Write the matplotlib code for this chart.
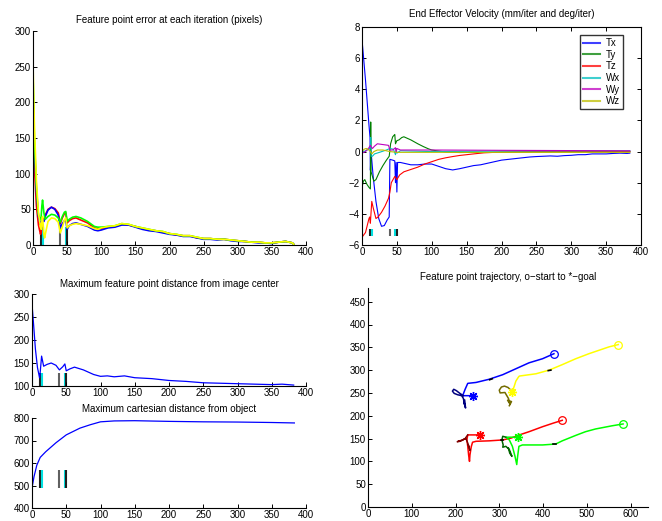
import matplotlib
matplotlib.use("Agg")
import matplotlib.pyplot as plt

plt.rcParams['font.family'] = ['Liberation Sans', 'DejaVu Sans']
plt.rcParams['font.size'] = 7

# ---------------- event markers (iterations where something happened) -------
event_iters = [0, 12, 14, 40, 48, 50]
event_colors = ['#00e0e0', '#202020', '#00e0e0', '#606060', '#00e0e0', '#202020']

# ---------------- feature point error (pixels) ----------------
err_x = [0, 2, 5, 8, 11, 12, 13, 14, 16, 17, 18, 22, 27, 32, 37, 40, 43, 46, 48, 50,
         53, 58, 63, 70, 80, 90, 95,
         100, 110, 120, 130, 140, 150, 160, 170, 180, 190, 200, 210, 220, 230, 240,
         250, 260, 270, 280, 290, 300, 310, 320, 330, 340, 350, 360, 370, 380, 382]
err_red = [175, 110, 55, 28, 15, 18, 28, 38, 34, 37, 42, 50, 53, 51, 45, 30, 38, 44, 45, 31,
           34, 37, 38, 35, 31, 24, 23,
           23, 25, 26, 29, 28, 26, 23, 21, 20, 18, 16, 14, 13, 13, 10,
           9, 9, 8, 8, 7, 6, 5, 4, 4, 3, 3, 4, 5, 3, 1]
err_blue = [210, 140, 75, 40, 28, 33, 30, 35, 33, 36, 40, 49, 53, 50, 42, 24, 30, 34, 35, 22,
            27, 30, 31, 29, 26, 21, 20,
            21, 24, 25, 28, 28, 25, 22, 20, 19, 17, 15, 14, 12, 12, 10,
            8, 8, 7, 8, 6, 5, 5, 4, 3, 3, 2, 4, 5, 3, 1]
err_green = [240, 150, 80, 42, 35, 40, 55, 63, 45, 40, 36, 40, 43, 42, 38, 32, 40, 46, 47, 33,
             36, 39, 40, 38, 33, 26, 25,
             25, 26, 27, 30, 29, 26, 24, 22, 20, 19, 16, 15, 13, 13, 11,
             9, 9, 8, 8, 7, 6, 5, 4, 4, 3, 3, 4, 5, 3, 1]
err_yellow = [255, 170, 90, 45, 25, 22, 33, 40, 15, 10, 15, 33, 38, 37, 32, 17, 25, 35, 38, 24,
              27, 29, 30, 29, 27, 23, 22,
              24, 26, 27, 30, 29, 26, 24, 22, 20, 19, 16, 15, 13, 13, 11,
              9, 9, 8, 8, 7, 6, 5, 4, 4, 3, 3, 4, 5, 3, 1]

# ---------------- end effector velocity ----------------
tx_x = [0, 5, 10, 11.5, 12, 13, 16, 20, 24, 28, 32, 36, 39, 40, 44, 47, 48, 49, 50, 51, 55, 60,
        70, 80, 90, 100, 110, 120, 130, 140, 150, 160, 170, 180, 190, 200, 210, 220, 230, 240,
        250, 260, 270, 280, 290, 300, 310, 320, 330, 340, 350, 360, 370, 380, 384]
tx_y = [7.2, 4.6, 1.7, 0.9, -1.2, 0.0, -1.6, -3.2, -4.3, -4.8, -4.75, -4.4, -4.2, -0.5, -0.55,
        -0.6, -2.0, -0.7, -2.6, -0.7, -0.7, -0.75,
        -0.85, -0.85, -0.8, -0.8, -0.95, -1.1, -1.18, -1.1, -1.0, -0.9, -0.85, -0.75, -0.65,
        -0.55, -0.5, -0.45, -0.4, -0.35, -0.32, -0.3, -0.28, -0.3, -0.26, -0.24, -0.2, -0.2,
        -0.15, -0.15, -0.15, -0.12, -0.1, -0.12, -0.1]
ty_x = [0, 2, 4, 7, 10, 12, 12.5, 13, 15, 17, 20, 25, 30, 35, 39, 41, 44, 47, 48, 50, 53, 57,
        60, 70, 80, 88, 95, 100, 110, 120, 140, 160, 200, 250, 300, 384]
ty_y = [-2.3, -1.9, -1.8, -2.1, -2.3, -2.4, 1.9, -1.3, -1.6, -1.9, -1.8, -1.3, -0.9, -0.55,
        -0.3, 0.5, 0.95, 1.1, 0.5, 0.7, 0.75, 0.9, 0.95, 0.75, 0.5, 0.32, 0.18, 0.1, 0.03,
        -0.03, -0.06, -0.05, -0.05, -0.03, -0.02, 0.0]
tz_x = [0, 5, 10, 11, 12, 14, 16, 20, 23, 28, 33, 38, 40, 42, 47, 50, 54, 60, 70, 80, 90,
        100, 110, 120, 130, 140, 150, 160, 175, 200, 250, 300, 384]
tz_y = [-5.5, -5.2, -4.3, -4.2, -4.6, -3.2, -3.6, -4.3, -4.2, -3.9, -3.5, -3.0, -2.6, -2.0,
        -1.6, -1.8, -1.5, -1.3, -1.15, -1.0, -0.8, -0.65, -0.5, -0.4, -0.32, -0.25, -0.2,
        -0.15, -0.08, -0.03, 0.0, 0.0, 0.0]
wx_x = [0, 5, 10, 12, 12.5, 13, 15, 18, 25, 35, 40, 45, 48, 49, 50, 55, 100, 200, 384]
wx_y = [-0.05, 0.05, 0.15, 0.3, 0.9, -0.3, -0.3, -0.15, -0.05, 0.1, 0.2, 0.15, -0.2, 0.2,
        -0.1, 0.05, 0.0, 0.03, 0.05]
wy_x = [0, 5, 10, 12, 13, 15, 18, 22, 30, 38, 40, 44, 48, 49, 50, 55, 100, 200, 384]
wy_y = [-0.1, 0.0, 0.25, 0.4, 0.3, 0.2, 0.35, 0.5, 0.45, 0.4, 0.1, 0.1, 0.25, -0.05, 0.2,
        0.1, 0.1, 0.08, 0.05]
wz_x = [0, 3, 6, 10, 12, 14, 17, 22, 30, 40, 50, 100, 384]
wz_y = [0.0, 0.15, 0.2, 0.1, 0.0, -0.15, 0.0, 0.1, 0.1, 0.0, -0.05, -0.05, -0.05]
vel_labels = ['Tx', 'Ty', 'Tz', 'Wx', 'Wy', 'Wz']
vel_colors = [(0, 0, 1), (0, 0.5, 0), (1, 0, 0), (0, 0.75, 0.75), (0.75, 0, 0.75), (0.75, 0.75, 0)]

# ---------------- maximum feature point distance from image center ----------
dist_x = [0, 2, 5, 8, 11, 12, 14, 17, 22, 28, 35, 40, 45, 48, 50, 55, 62, 75, 90, 100, 110,
          120, 135, 150, 175, 200, 225, 250, 275, 300, 325, 350, 365, 382]
dist_y = [278, 240, 180, 140, 118, 130, 165, 143, 147, 150, 145, 135, 142, 148, 133, 137,
          141, 135, 125, 121, 122, 120, 122, 118, 116, 112, 110, 107, 106, 105, 104, 103,
          104, 102]

# ---------------- maximum cartesian distance from object ----------------
cart_x = [0, 3, 7, 12, 20, 35, 50, 70, 85, 100, 120, 150, 200, 250, 300, 350, 383]
cart_y = [490, 540, 590, 625, 650, 690, 725, 755, 770, 783, 787, 788, 785, 783, 782, 780, 778]

# ---------------- feature point trajectories (image coords) ----------------
blue_u = [425, 399, 368, 338, 308, 277, 247, 228, 222, 218, 216, 241]
blue_v = [336, 325, 316, 303, 290, 280, 273, 271, 258, 248, 244, 244]
blue_loop_u = [218, 210, 202, 196, 193, 197, 205, 214, 218, 220, 222, 219, 223, 221]
blue_loop_v = [244, 249, 255, 258, 254, 249, 246, 244, 238, 228, 220, 232, 217, 234]

yellow_u = [572, 551, 505, 475, 444, 414, 384, 346, 344, 338, 334, 330]
yellow_v = [356, 351, 336, 325, 312, 300, 292, 287, 285, 276, 264, 253]
yellow_loop_u = [330, 320, 312, 305, 300, 302, 313, 321, 325, 319, 328, 323]
yellow_loop_v = [253, 262, 265, 263, 256, 250, 251, 238, 225, 234, 231, 222]

red_u = [444, 424, 399, 368, 346, 327, 308, 277, 247, 239, 236, 233, 232, 230, 228, 226,
         228, 256]
red_v = [190, 184, 176, 165, 158, 151, 147, 145, 144, 142, 132, 114, 100, 114, 133, 147,
         158, 158]
red_loop_u = [228, 222, 215, 208, 204, 210, 218, 224, 228, 231, 233, 229]
red_loop_v = [158, 150, 146, 145, 143, 144, 148, 150, 140, 132, 124, 136]

green_u = [583, 558, 520, 497, 475, 444, 429, 399, 353, 345, 342, 340, 336, 330, 323, 315,
           342]
green_v = [182, 178, 171, 165, 157, 145, 138, 136, 136, 133, 111, 93, 111, 133, 147, 153,
           153]
green_loop_u = [315, 308, 306, 309, 308, 315, 323, 329, 324, 321]
green_loop_v = [153, 155, 147, 136, 131, 133, 126, 111, 118, 129]

# short dark stretches along the paths
dark_seg_u = [[278, 284], [412, 418], [303, 309], [423, 429]]
dark_seg_v = [[279, 281], [299, 300], [147, 147], [137, 137]]

# ---------------------------------------------------------------------------
W, H = 662, 521
fig = plt.figure(figsize=(W / 100, H / 100), dpi=100)


def px_axes(left, top, right, bottom):
    return fig.add_axes([left / W, 1 - bottom / H, (right - left) / W, (bottom - top) / H])


def style(ax, box):
    for s in ('top', 'right'):
        ax.spines[s].set_visible(box)
    for s in ax.spines.values():
        s.set_linewidth(0.8)
    ax.tick_params(direction='in', length=3, width=0.7, labelsize=7, pad=1.5,
                   top=box, right=box)


def events(ax, y0, y1):
    for it, c in zip(event_iters, event_colors):
        ax.plot([it, it], [y0, y1], color=c, lw=1.5, solid_capstyle='butt', zorder=1)


iter_ticks = list(range(0, 401, 50))

# feature point error
ax1 = px_axes(33, 31, 306, 245)
events(ax1, 0, 25)
for y, c in [(err_red, (1, 0, 0)), (err_blue, (0, 0, 1)), (err_green, (0, 1, 0)),
             (err_yellow, (1, 1, 0))]:
    ax1.plot(err_x, y, color=c, lw=1.2, zorder=2)
ax1.set_xlim(0, 400)
ax1.set_ylim(0, 300)
ax1.set_xticks(iter_ticks)
ax1.set_yticks(range(0, 301, 50))
style(ax1, False)
ax1.set_title('Feature point error at each iteration (pixels)', fontsize=7, pad=6)

# end effector velocity
ax2 = px_axes(362, 27, 641, 245)
events(ax2, -5.4, -5.0)
vel_lines = []
for xs, ys, c, lab in zip([tx_x, ty_x, tz_x, wx_x, wy_x, wz_x],
                          [tx_y, ty_y, tz_y, wx_y, wy_y, wz_y], vel_colors, vel_labels):
    ln, = ax2.plot(xs, ys, color=c, lw=0.8, label=lab, zorder=2)
    vel_lines.append(ln)
ax2.set_xlim(0, 400)
ax2.set_ylim(-6, 8)
ax2.set_xticks(iter_ticks)
ax2.set_yticks(range(-6, 9, 2))
ax2.set_yticklabels(['\u22126', '\u22124', '\u22122', '0', '2', '4', '6', '8'])
style(ax2, True)
ax2.set_title('End Effector Velocity (mm/iter and deg/iter)', fontsize=7, pad=7)
leg = ax2.legend(handles=vel_lines, loc='upper right', bbox_to_anchor=(0.935, 0.963),
                 fontsize=7, frameon=True, fancybox=False, edgecolor='black',
                 handlelength=1.8, handletextpad=0.55, borderpad=0.3, labelspacing=0.17,
                 borderaxespad=0)
leg.get_frame().set_linewidth(1.0)
for h in leg.get_lines():
    h.set_linewidth(1.5)
    h.set_alpha(0.75)

# max distance from image center
ax3 = px_axes(32, 294, 306, 386)
events(ax3, 100, 128)
ax3.plot(dist_x, dist_y, color=(0, 0, 1), lw=0.9, zorder=2)
ax3.set_xlim(0, 400)
ax3.set_ylim(100, 300)
ax3.set_xticks(iter_ticks)
ax3.set_yticks(range(100, 301, 50))
style(ax3, False)
ax3.set_title('Maximum feature point distance from image center', fontsize=7, pad=5)

# max cartesian distance
ax4 = px_axes(32, 418, 306, 508)
events(ax4, 490, 568)
ax4.plot(cart_x, cart_y, color=(0, 0, 1), lw=0.9, zorder=2)
ax4.set_xlim(0, 400)
ax4.set_ylim(400, 800)
ax4.set_xticks(iter_ticks)
ax4.set_yticks(range(400, 801, 100))
style(ax4, False)
ax4.set_title('Maximum cartesian distance from object', fontsize=7, pad=4)

# feature point trajectories
ax5 = px_axes(368, 288, 648, 507)
star = (8, 2, 0)
paths = [
    (blue_u, blue_v, blue_loop_u, blue_loop_v, (0, 0, 1), (0, 0, 0.5)),
    (yellow_u, yellow_v, yellow_loop_u, yellow_loop_v, (1, 1, 0), (0.45, 0.42, 0)),
    (red_u, red_v, red_loop_u, red_loop_v, (1, 0, 0), (0.5, 0, 0)),
    (green_u, green_v, green_loop_u, green_loop_v, (0, 1, 0), (0, 0.4, 0)),
]
for u, v, lu, lv, c, dc in paths:
    ax5.plot(u, v, color=c, lw=1.1, zorder=2)
    ax5.plot(lu, lv, color=dc, lw=1.1, zorder=3)
    ax5.plot(u[0], v[0], marker='o', ms=5.5, mfc='none', mec=c, mew=0.9, zorder=4)
    ax5.plot(u[-1], v[-1], marker=star, ms=6.5, color=c, mew=1.0, zorder=4)
for su, sv in zip(dark_seg_u, dark_seg_v):
    ax5.plot(su, sv, color='black', lw=1.2, zorder=3)
ax5.set_xlim(0, 640)
ax5.set_ylim(0, 480)
ax5.set_xticks(range(0, 601, 100))
ax5.set_yticks(range(0, 451, 50))
style(ax5, False)
ax5.set_title('Feature point trajectory, o\u2212start to *\u2212goal', fontsize=7, pad=6)

fig.savefig('out.png', dpi=100, facecolor='white')
